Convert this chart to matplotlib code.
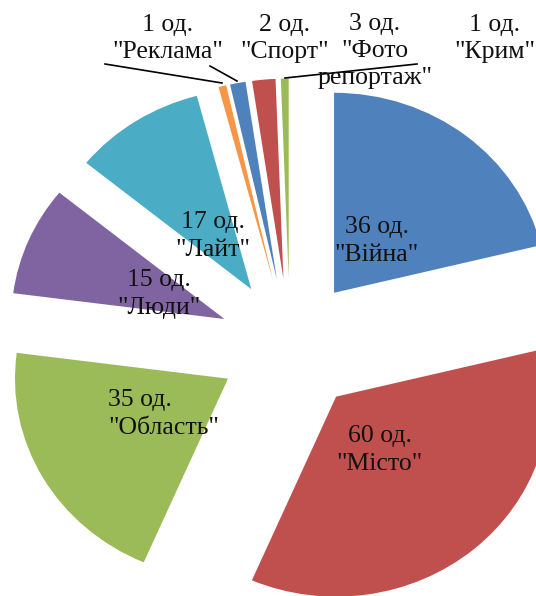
import matplotlib
matplotlib.use('Agg')
import matplotlib.pyplot as plt

categories = ['Війна', 'Місто', 'Область', 'Люди', 'Лайт', 'Реклама', 'Спорт', 'Фото\nрепортаж', 'Крим']
values = [36, 60, 35, 15, 17, 1, 2, 3, 1]
unit = 'од.'

colors = ['#4F81BD', '#C0504D', '#9BBB59', '#8064A2', '#4BACC6',
          '#F79646', '#4F81BD', '#C0504D', '#9BBB59']

W, H = 536, 596
SX = 1.065  # horizontal stretch of the original picture


def P(x, y):
    return (x / SX, H - y)


fig = plt.figure(figsize=(W / 100, H / 100), dpi=100)
ax = fig.add_axes([0, 0, 1, 1])
cx, cy = P(290, 345.5)
R = 200
ax.pie(values, colors=colors, startangle=90, counterclock=False,
       explode=[0.335 * R] * len(values), radius=R, center=(cx, cy),
       wedgeprops=dict(linewidth=0))
ax.set_aspect('auto')
ax.set_xlim(0, W / SX)
ax.set_ylim(0, H)
ax.axis('off')

# label placement (pixel centres) and alignment
label_pos = [(377, 241, 'center'), (380, 450, 'center'), (108, 414, 'left'),
             (159, 294, 'center'), (213, 236, 'center'), (168, 38.5, 'center'),
             (285, 38.5, 'center'), (375, 51, 'center'), (495, 38.5, 'center')]

for cat, v, (x, y, ha) in zip(categories, values, label_pos):
    txt = f'{v} {unit}\n"{cat}"'
    ax.text(*P(x, y), txt, ha=ha, va='center', multialignment=ha,
            fontsize=18.5, family='Liberation Serif', color='#111111',
            linespacing=1.32)

# leader lines
leaders = [((105, 64), (222, 83)), ((210, 66), (237, 81)), ((417, 64), (285, 78))]
for a, b in leaders:
    pa, pb = P(*a), P(*b)
    ax.plot([pa[0], pb[0]], [pa[1], pb[1]], color='black', lw=1.2)

fig.savefig('out.png', dpi=100)
